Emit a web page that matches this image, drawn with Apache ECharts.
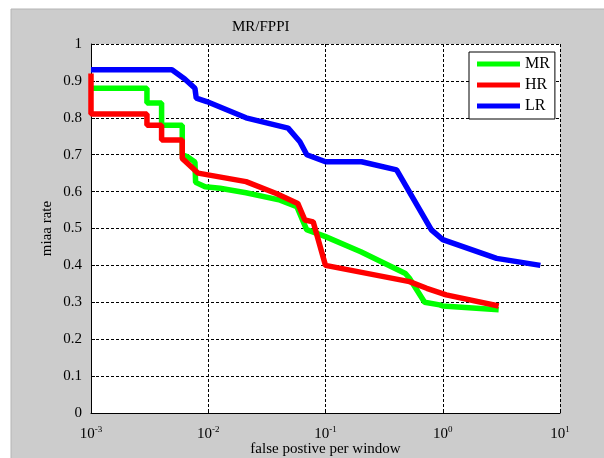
<!DOCTYPE html>
<head>
    <meta charset="utf-8">
    <title>MR/FPPI</title>
    <style>
        html, body{
            width: 100%;
            height: 100%;
            margin: 0;
            background: #fff;
        }
        #main {
            width: 604px;
            height: 458px;
        }
    </style>
</head>
<body>
<div id="main"></div>
<script src="https://cdn.jsdelivr.net/npm/echarts@6/dist/echarts.min.js"></script>
<script type="text/javascript">
  var myChart = echarts.init(document.getElementById('main'));

  // false positives per window (x) and miss rate (y) for each curve
  var mrFppi = [0.001, 0.003, 0.003, 0.004, 0.004, 0.006, 0.006, 0.0066, 0.0077, 0.0078, 0.0094, 0.0126, 0.021, 0.041, 0.057, 0.069, 0.1, 0.2, 0.48, 0.52, 0.70, 0.94, 1.0, 3.0];
  var mrRate = [0.88, 0.88, 0.84, 0.84, 0.78, 0.78, 0.70, 0.695, 0.68, 0.625, 0.613, 0.609, 0.597, 0.577, 0.559, 0.497, 0.478, 0.437, 0.378, 0.365, 0.30, 0.293, 0.29, 0.28];

  var hrFppi = [0.001, 0.001, 0.003, 0.003, 0.004, 0.004, 0.006, 0.006, 0.0082, 0.021, 0.038, 0.058, 0.0667, 0.0785, 0.1, 0.52, 0.73, 1.07, 3.0];
  var hrRate = [0.92, 0.81, 0.81, 0.78, 0.78, 0.74, 0.74, 0.69, 0.65, 0.627, 0.595, 0.568, 0.523, 0.518, 0.40, 0.356, 0.338, 0.32, 0.29];

  var lrFppi = [0.001, 0.0049, 0.0063, 0.0077, 0.0079, 0.0097, 0.021, 0.048, 0.0605, 0.0693, 0.1, 0.203, 0.404, 0.80, 1.0, 2.88, 6.8];
  var lrRate = [0.93, 0.93, 0.905, 0.88, 0.853, 0.844, 0.80, 0.772, 0.735, 0.70, 0.681, 0.681, 0.659, 0.496, 0.47, 0.419, 0.40];

  var seriesNames = ['MR', 'HR', 'LR'];
  var seriesColors = ['#00ff00', '#ff0000', '#0000ff'];

  function pairs(xs, ys) {
    var out = [];
    for (var i = 0; i < xs.length; i++) {
      out.push([xs[i], ys[i]]);
    }
    return out;
  }
  var allData = [pairs(mrFppi, mrRate), pairs(hrFppi, hrRate), pairs(lrFppi, lrRate)];

  var serif = '"Liberation Serif", "DejaVu Serif", serif';
  var gridLine = {show: true, lineStyle: {color: '#000', width: 1, type: [3, 2]}};

  var series = [];
  for (var k = 0; k < seriesNames.length; k++) {
    series.push({
      name: seriesNames[k],
      type: 'line',
      showSymbol: false,
      clip: false,
      color: seriesColors[k],
      lineStyle: {width: 5.5, color: seriesColors[k]},
      data: allData[k]
    });
  }

  var option = {
    animation: false,
    backgroundColor: '#fff',
    graphic: [{
      type: 'rect',
      z: -10,
      shape: {x: 11, y: 9, width: 600, height: 460},
      style: {fill: '#cccccc', stroke: '#b4b4b4', lineWidth: 1}
    }],
    title: {
      text: 'MR/FPPI',
      left: 232,
      top: 20,
      padding: 0,
      textStyle: {fontFamily: serif, fontSize: 15, fontWeight: 'normal', color: '#000'}
    },
    legend: {
      data: seriesNames,
      orient: 'vertical',
      left: 469,
      top: 52,
      icon: 'rect',
      itemWidth: 43,
      itemHeight: 5,
      itemGap: 5,
      padding: [4, 5, 5, 8],
      backgroundColor: '#fff',
      borderColor: '#000',
      borderWidth: 1,
      borderRadius: 0,
      textStyle: {fontFamily: serif, fontSize: 16, color: '#000', lineHeight: 15}
    },
    grid: {
      left: 91,
      right: 44,
      top: 44,
      bottom: 45,
      outerBoundsMode: 'none',
      containLabel: false,
      show: true,
      backgroundColor: '#fff',
      borderWidth: 0
    },
    xAxis: {
      type: 'log',
      logBase: 10,
      min: 0.001,
      max: 10,
      name: 'false postive per window',
      nameLocation: 'middle',
      nameMoveOverlap: false,
      nameGap: 29,
      nameTextStyle: {fontFamily: serif, fontSize: 15, color: '#000'},
      axisLine: {show: true, onZero: false, lineStyle: {color: '#000', width: 1}},
      axisTick: {show: true, inside: true, length: 4, lineStyle: {color: '#000'}},
      splitLine: gridLine,
      axisLabel: {
        margin: 12,
        color: '#000',
        formatter: function (v) {
          var e = Math.round(Math.log(v) / Math.LN10);
          return '{b|10}{s|' + e + '}';
        },
        rich: {
          b: {fontFamily: serif, fontSize: 15, color: '#000', lineHeight: 18},
          s: {fontFamily: serif, fontSize: 9, color: '#000', verticalAlign: 'top', lineHeight: 18}
        }
      }
    },
    yAxis: {
      type: 'value',
      min: 0,
      max: 1,
      interval: 0.1,
      name: 'miaa rate',
      nameLocation: 'middle',
      nameMoveOverlap: false,
      nameRotate: 90,
      nameGap: 36,
      nameTextStyle: {fontFamily: serif, fontSize: 15, color: '#000'},
      axisLine: {show: true, lineStyle: {color: '#000', width: 1}},
      axisTick: {show: true, inside: true, length: 4, lineStyle: {color: '#000'}},
      splitLine: gridLine,
      axisLabel: {margin: 9, fontFamily: serif, fontSize: 15, color: '#000'}
    },
    series: series
  };
  myChart.setOption(option);
</script>
</body>
